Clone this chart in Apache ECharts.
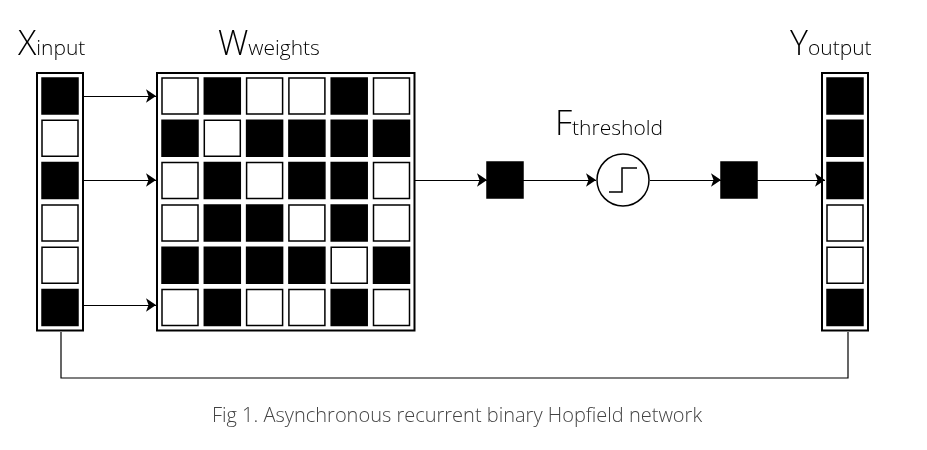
<!DOCTYPE html>
<html><head><meta charset="utf-8">
<script src="https://cdn.jsdelivr.net/npm/echarts@6/dist/echarts.min.js"></script>
<style>html,body{margin:0;padding:0;background:#fff}#c{width:927px;height:450px}</style>
</head><body><div id="c"></div>
<script>
// Data
const inputX = [1,0,1,0,0,1];
const outputY = [1,1,1,0,0,1];
const weightsW = [
  [0,1,0,0,1,0],
  [1,0,1,1,1,1],
  [0,1,0,1,1,0],
  [0,1,1,0,1,0],
  [1,1,1,1,0,1],
  [0,1,0,0,1,0]
];
const hiddenCells = [1,1]; // intermediate product and thresholded value (both shown filled)
const labels = [
  {big:'X', small:'input'},
  {big:'W', small:'weights'},
  {big:'F', small:'threshold'},
  {big:'Y', small:'output'}
];
const caption = 'Fig 1. Asynchronous recurrent binary Hopfield network';

// Layout
const PITCH = 42.3, CELL = 36, PAD = 5;
const blocks = {X:{x:42,y:78}, W:{x:162,y:78}, Y:{x:827,y:78}};
const hiddenPos = [{x:487,y:162},{x:721,y:162}];

const cellData = [];
inputX.forEach((v,r)=>cellData.push(['X',r,0,v]));
weightsW.forEach((row,r)=>row.forEach((v,c)=>cellData.push(['W',r,c,v])));
outputY.forEach((v,r)=>cellData.push(['Y',r,0,v]));
hiddenCells.forEach((v,i)=>cellData.push(['H',i,0,v]));

const boxData = [['X',1],['W',6],['Y',1]];

const chart = echarts.init(document.getElementById('c'));
const arrow = (a,b)=>({coords:[a,b]});
chart.setOption({
  animation:false,
  grid:{left:0,top:0,width:927,height:450},
  xAxis:{type:'value',min:0,max:927,show:false},
  yAxis:{type:'value',min:0,max:450,inverse:true,show:false},
  series:[
    {type:'custom',coordinateSystem:'cartesian2d',data:boxData,
     encode:{x:-1,y:-1},
     renderItem:(p,api)=>{
       const b=blocks[api.value(0)], n=api.value(1);
       const p0=api.coord([b.x-PAD,b.y-PAD]);
       const p1=api.coord([b.x+(n-1)*PITCH+CELL+PAD,b.y+5*PITCH+CELL+PAD]);
       return {type:'rect',shape:{x:p0[0],y:p0[1],width:p1[0]-p0[0],height:p1[1]-p0[1]},
         style:{fill:'#fff',stroke:'#000',lineWidth:2}};
     }},
    {type:'custom',coordinateSystem:'cartesian2d',data:cellData,
     encode:{x:-1,y:-1},
     renderItem:(p,api)=>{
       const k=api.value(0), r=api.value(1), c=api.value(2), v=api.value(3);
       let x,y;
       if(k==='H'){x=hiddenPos[r].x;y=hiddenPos[r].y;}
       else {const b=blocks[k];x=b.x+c*PITCH;y=b.y+r*PITCH;}
       const p0=api.coord([x,y]), p1=api.coord([x+CELL,y+CELL]);
       return {type:'rect',shape:{x:p0[0],y:p0[1],width:p1[0]-p0[0],height:p1[1]-p0[1]},
         style:{fill:v?'#000':'#fff',stroke:'#000',lineWidth:1.5}};
     }},
    {type:'lines',coordinateSystem:'cartesian2d',symbol:['none','arrow'],symbolSize:10,
     lineStyle:{color:'#000',width:1.2,opacity:1},
     data:[arrow([83,96],[156,96]),arrow([83,180],[156,180]),arrow([83,305],[156,305]),
           arrow([415,180],[487,180]),arrow([523,180],[596,180]),
           arrow([650,180],[721,180]),arrow([757,180],[825,180])]},
    {type:'lines',coordinateSystem:'cartesian2d',polyline:true,symbol:['none','arrow'],symbolSize:10,
     lineStyle:{color:'#000',width:1.2,opacity:1},
     data:[{coords:[[848,332],[848,378],[61,378],[61,332]]}]}
  ],
  graphic:[
    {type:'circle',shape:{cx:623,cy:180,r:26},style:{fill:'#fff',stroke:'#000',lineWidth:1.5}},
    {type:'polyline',shape:{points:[[609,192],[622,192],[622,168],[637,168]]},style:{fill:null,stroke:'#000',lineWidth:1.5}},
    {type:'text',left:18,top:28,style:{rich:{b:{fontSize:34,fontFamily:'Open Sans',fontWeight:300},s:{fontSize:21,fontFamily:'Open Sans',fontWeight:300,padding:[8,0,0,0]}},text:'{b|'+labels[0].big+'}{s|'+labels[0].small+'}',fill:'#000'}},
    {type:'text',left:218,top:28,style:{rich:{b:{fontSize:34,fontFamily:'Open Sans',fontWeight:300},s:{fontSize:21,fontFamily:'Open Sans',fontWeight:300,padding:[8,0,0,0]}},text:'{b|'+labels[1].big+'}{s|'+labels[1].small+'}',fill:'#000'}},
    {type:'text',left:555,top:108,style:{rich:{b:{fontSize:34,fontFamily:'Open Sans',fontWeight:300},s:{fontSize:21,fontFamily:'Open Sans',fontWeight:300,padding:[8,0,0,0]}},text:'{b|'+labels[2].big+'}{s|'+labels[2].small+'}',fill:'#000'}},
    {type:'text',left:790,top:28,style:{rich:{b:{fontSize:34,fontFamily:'Open Sans',fontWeight:300},s:{fontSize:21,fontFamily:'Open Sans',fontWeight:300,padding:[8,0,0,0]}},text:'{b|'+labels[3].big+'}{s|'+labels[3].small+'}',fill:'#000'}},
    {type:'text',x:457,y:416,style:{text:caption,fontSize:20,fontFamily:'Open Sans',fontWeight:300,fill:'#444',textAlign:'center',textVerticalAlign:'middle'}}
  ]
});
</script></body></html>
